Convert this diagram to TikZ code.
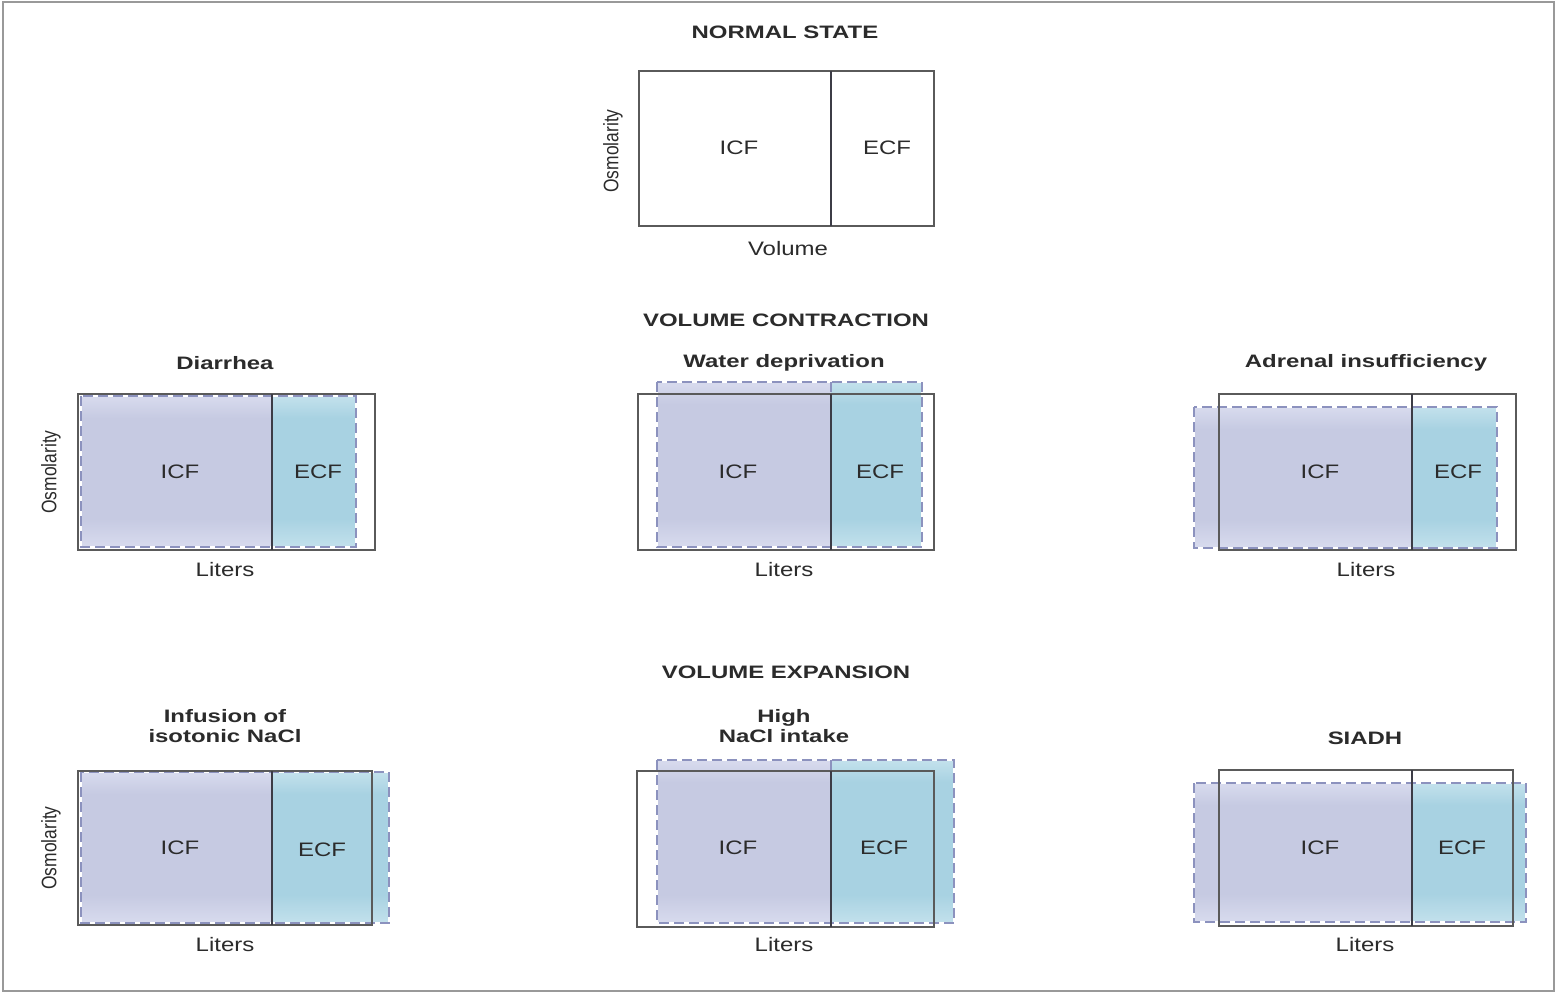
\documentclass[tikz,border=0pt]{standalone}
\usepackage{fontspec}
\setmainfont{Liberation Sans}
\newfontfamily\regf[FakeStretch=1.23]{Liberation Sans}
\newfontfamily\boldf[FakeStretch=1.33]{Liberation Sans}
\newfontfamily\rotf[FakeStretch=0.83]{Liberation Sans}
\usetikzlibrary{calc}
\definecolor{txt}{HTML}{2B2B2B}
\definecolor{icfmid}{HTML}{C6CAE2}
\definecolor{icfedge}{HTML}{D8DBEE}
\definecolor{ecfmid}{HTML}{A8D2E2}
\definecolor{ecfedge}{HTML}{C3E1EC}
\definecolor{dashc}{HTML}{8C92BE}
\definecolor{boxc}{HTML}{5A5A5A}
\definecolor{divc}{HTML}{3C3C46}
\tikzset{
  sectitle/.style={font=\boldf\bfseries\fontsize{18}{20}\selectfont, text=txt, align=center, inner sep=0pt},
  subtitle/.style={font=\boldf\bfseries\fontsize{18}{20}\selectfont, text=txt, align=center, inner sep=0pt},
  lbl/.style={font=\regf\fontsize{19.5}{22}\selectfont, text=txt, inner sep=0pt},
  axis/.style={font=\rotf\fontsize{21}{24}\selectfont, text=txt, rotate=90, inner sep=0pt},
  icfbase/.style={fill=icfmid, draw=none},
  ecfbase/.style={fill=ecfmid, draw=none},
  icftop/.style={top color=icfedge, bottom color=icfmid, draw=none},
  icfbot/.style={top color=icfmid, bottom color=icfedge, draw=none},
  ecftop/.style={top color=ecfedge, bottom color=ecfmid, draw=none},
  ecfbot/.style={top color=ecfmid, bottom color=ecfedge, draw=none},
  dashunder/.style={draw=white, line width=1.8pt},
  dashbox/.style={draw=dashc, line width=1.8pt, dash pattern=on 10pt off 5pt},
  solidbox/.style={draw=boxc, line width=1.4pt},
  divline/.style={draw=divc, line width=1.6pt},
  frameline/.style={draw=black!40, line width=1.5pt}
}
\newcommand\fluidpanel[6]{%
  \coordinate (#1-stl) at (#2);
  \coordinate (#1-sbr) at (#4);
  \coordinate (#1-dtl) at (#5);
  \coordinate (#1-dbr) at (#6);
  \coordinate (#1-div) at (#3,0);
  \coordinate (#1-t2) at ($(#1-dtl)+(0,22)$);
  \coordinate (#1-b2) at ($(#1-dbr)+(0,-28)$);
  \fill[icfbase] (#1-dtl) rectangle (#1-dbr -| #1-div);
  \fill[ecfbase] (#1-dtl -| #1-div) rectangle (#1-dbr);
  \shade[icftop] (#1-dtl) rectangle (#1-t2 -| #1-div);
  \shade[ecftop] (#1-dtl -| #1-div) rectangle (#1-t2 -| #1-dbr);
  \shade[icfbot] (#1-b2 -| #1-dtl) rectangle (#1-dbr -| #1-div);
  \shade[ecfbot] (#1-b2 -| #1-div) rectangle (#1-dbr);
  \draw[dashunder] (#1-dtl) rectangle (#1-dbr);
  \draw[dashbox] (#1-dtl) rectangle (#1-dbr);
  \draw[dashbox] (#1-dtl -| #1-div) -- (#1-dbr -| #1-div);
  \draw[solidbox] (#1-stl) rectangle (#1-sbr);
  \draw[divline] (#1-stl -| #1-div) -- (#1-sbr -| #1-div);
}
\begin{document}
\begin{tikzpicture}[x=1pt, y=-1pt]
\useasboundingbox (0,0) rectangle (1557,994);
\fill[white] (0,0) rectangle (1557,994);
\draw[frameline] (3,2) rectangle (1554,991);

% ---------- Normal state ----------
\node[sectitle] (tnormal) at (785,32) {NORMAL STATE};
\coordinate (n-tl) at (639,71);
\coordinate (n-br) at (934,226);
\coordinate (n-div) at (831,0);
\draw[solidbox] (n-tl) rectangle (n-br);
\draw[divline] (n-tl -| n-div) -- (n-br -| n-div);
\node[lbl] (nicf) at (739,148) {ICF};
\node[lbl] (necf) at (887,148) {ECF};
\node[axis] (nosm) at (613,151) {Osmolarity};
\node[lbl] (nvol) at (788,249) {Volume};

% ---------- Volume contraction ----------
\node[sectitle] (tcontr) at (786,320) {VOLUME CONTRACTION};

\node[subtitle] (tdia) at (225,363) {Diarrhea};
\fluidpanel{dia}{78,394}{272}{375,550}{81,396}{356,547}
\node[lbl] (diaicf) at (180,472) {ICF};
\node[lbl] (diaecf) at (318,472) {ECF};
\node[axis] (diaosm) at (51,472) {Osmolarity};
\node[lbl] (dialit) at (225,570) {Liters};

\node[subtitle] (twat) at (784,363) {Water deprivation};
\fluidpanel{wat}{638,394}{831}{934,550}{657,382}{922,547}
\node[lbl] (waticf) at (738,472) {ICF};
\node[lbl] (watecf) at (880,472) {ECF};
\node[lbl] (watlit) at (784,570) {Liters};

\node[subtitle] (tadr) at (1366,363) {Adrenal insufficiency};
\fluidpanel{adr}{1219,394}{1412}{1516,550}{1194,407}{1497,548}
\node[lbl] (adricf) at (1320,472) {ICF};
\node[lbl] (adrecf) at (1458,472) {ECF};
\node[lbl] (adrlit) at (1366,570) {Liters};

% ---------- Volume expansion ----------
\node[sectitle] (texp) at (786,672) {VOLUME EXPANSION};

\node[subtitle] (tinf) at (225,726) {Infusion of\\isotonic NaCl};
\fluidpanel{inf}{78,771}{272}{372,925}{81,772}{389,923}
\node[lbl] (inficf) at (180,848) {ICF};
\node[lbl] (infecf) at (322,850) {ECF};
\node[axis] (infosm) at (51,848) {Osmolarity};
\node[lbl] (inflit) at (225,945) {Liters};

\node[subtitle] (thigh) at (784,726) {High\\NaCl intake};
\fluidpanel{hig}{637,771}{831}{934,927}{657,760}{954,923}
\node[lbl] (higicf) at (738,848) {ICF};
\node[lbl] (higecf) at (884,848) {ECF};
\node[lbl] (higlit) at (784,945) {Liters};

\node[subtitle] (tsia) at (1365,738) {SIADH};
\fluidpanel{sia}{1219,770}{1412}{1513,926}{1194,783}{1526,922}
\node[lbl] (siaicf) at (1320,848) {ICF};
\node[lbl] (siaecf) at (1462,848) {ECF};
\node[lbl] (sialit) at (1365,945) {Liters};
\end{tikzpicture}
\end{document}
